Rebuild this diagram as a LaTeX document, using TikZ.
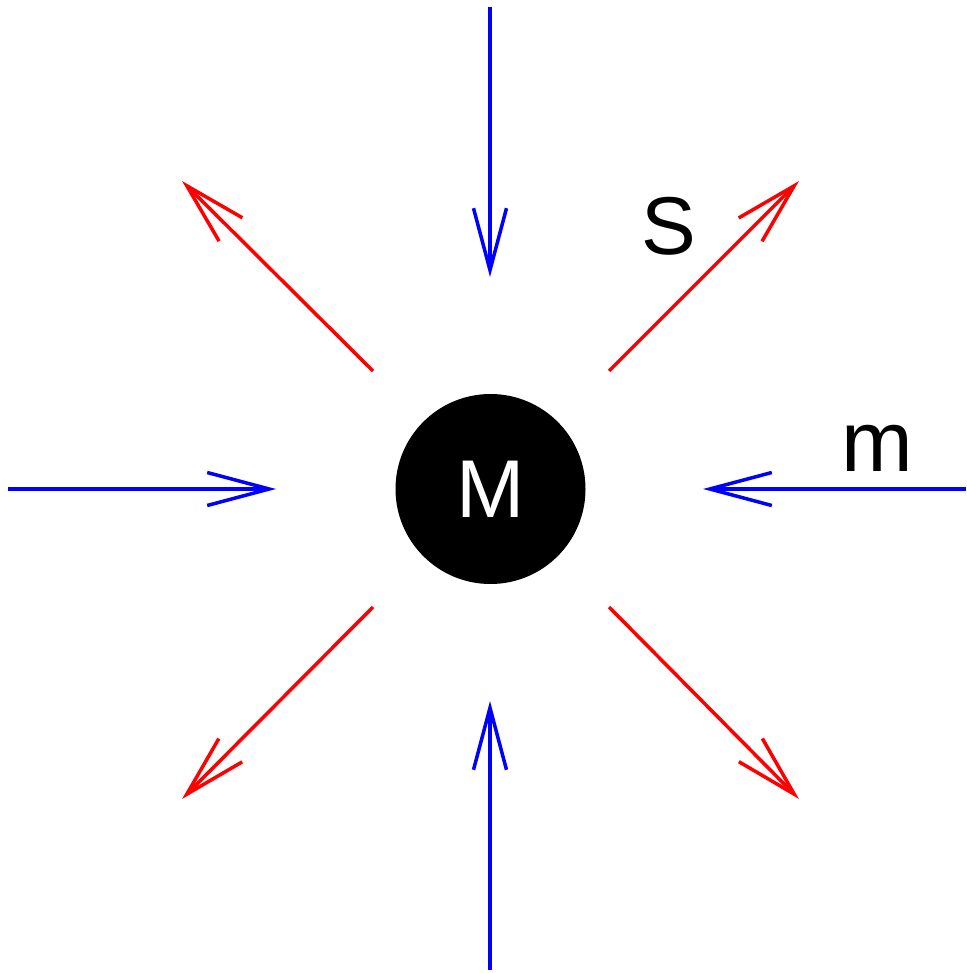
\documentclass[tikz,border=0pt]{standalone}
\usepackage{fontspec}
\setmainfont{Liberation Sans}
\usetikzlibrary{arrows.meta}
\begin{document}
\begin{tikzpicture}[x=1pt,y=-1pt,
  inflow/.style={draw=blue,line width=3.5pt,-{Straight Barb[length=62pt,width=33pt,line width=3.5pt]}},
  outflow/.style={draw=red,line width=3.5pt,-{Straight Barb[length=62pt,width=33pt,line width=3.5pt]}},
  lbl/.style={inner sep=0pt,font=\fontsize{82}{82}\selectfont}]
\useasboundingbox (0,0) rectangle (966,973);
\node[circle,fill=black,minimum size=190pt,inner sep=0pt,text=white,font=\fontsize{82}{82}\selectfont] (M) at (490.5,489) {M};
% blue inflow
\coordinate (tS) at (490,7);   \coordinate (tE) at (490,277);
\coordinate (lS) at (8,489);   \coordinate (lE) at (276,489);
\coordinate (rS) at (966,489); \coordinate (rE) at (703,489);
\coordinate (bS) at (490,970); \coordinate (bE) at (490,701);
\draw[inflow] (tS) -- (tE);
\draw[inflow] (lS) -- (lE);
\draw[inflow] (rS) -- (rE);
\draw[inflow] (bS) -- (bE);
% red outflow
\coordinate (nwS) at (373,371); \coordinate (nwE) at (182,181);
\coordinate (neS) at (609,371); \coordinate (neE) at (799,181);
\coordinate (swS) at (373,607); \coordinate (swE) at (182,799);
\coordinate (seS) at (609,607); \coordinate (seE) at (799,799);
\draw[outflow] (nwS) -- (nwE);
\draw[outflow] (neS) -- (neE);
\draw[outflow] (swS) -- (swE);
\draw[outflow] (seS) -- (seE);
\node[lbl] (S) at (669,226) {S};
\node[lbl,font=\fontsize{86}{86}\selectfont] (m) at (877,448) {m};
\end{tikzpicture}
\end{document}
